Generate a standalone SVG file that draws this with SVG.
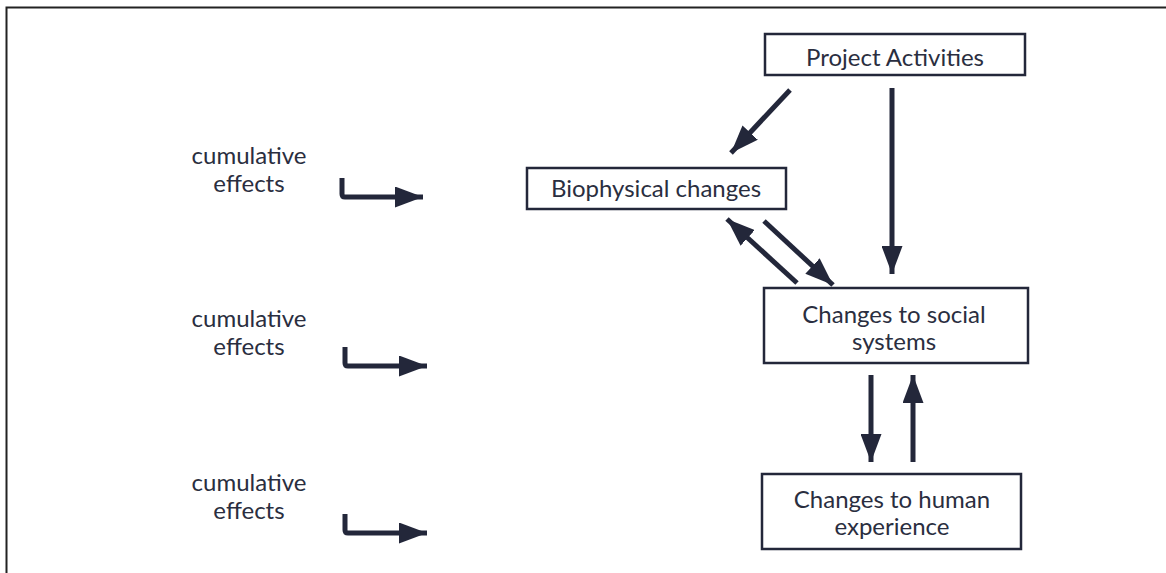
<svg xmlns="http://www.w3.org/2000/svg" width="1166" height="573" viewBox="0 0 1166 573">
<defs>
<style>
.box{fill:#fff;stroke:#23273a;stroke-width:2.5}
.t{font-family:Lato,"Noto Sans","Liberation Sans",sans-serif;font-size:24px;font-weight:400;fill:#2a2e40;text-anchor:middle}
.c{stroke:#23273a;stroke-width:5;fill:none}
.frame{stroke:#222;stroke-width:2;fill:none}
</style>
<marker id="ah" viewBox="0 0 10 10" refX="10" refY="5" markerWidth="5.6" markerHeight="4.2" markerUnits="strokeWidth" orient="auto" preserveAspectRatio="none">
<path d="M0,0 L10,5 L0,10 Z" fill="#23273a"/>
</marker>
</defs>
<rect width="1166" height="573" fill="#fff"/>
<path class="frame" d="M6.5,573 V7.5 H1166"/>
<g id="connectors">
<line class="c" x1="790" y1="90" x2="731" y2="153" marker-end="url(#ah)"/>
<line class="c" x1="892" y1="88" x2="892" y2="274" marker-end="url(#ah)"/>
<line class="c" x1="797" y1="283" x2="727" y2="219" marker-end="url(#ah)"/>
<line class="c" x1="764" y1="221" x2="833" y2="285" marker-end="url(#ah)"/>
<line class="c" x1="871" y1="375" x2="871" y2="462" marker-end="url(#ah)"/>
<line class="c" x1="913" y1="462" x2="913" y2="375" marker-end="url(#ah)"/>
<path class="c" d="M342,178 V194 Q342,197 345,197 H423" marker-end="url(#ah)"/>
<path class="c" d="M345,347 V363 Q345,366 348,366 H427" marker-end="url(#ah)"/>
<path class="c" d="M345,514 V530 Q345,533 348,533 H427" marker-end="url(#ah)"/>
</g>
<g id="project">
<rect class="box" x="765" y="34" width="260" height="41"/>
<text class="t" x="895" y="66">Project Activities</text>
</g>
<g id="biophysical">
<rect class="box" x="527" y="168" width="259" height="41"/>
<text class="t" x="656" y="197">Biophysical changes</text>
</g>
<g id="social">
<rect class="box" x="764" y="288" width="264" height="75"/>
<text class="t" x="894" y="323">Changes to social</text>
<text class="t" x="894" y="350">systems</text>
</g>
<g id="human">
<rect class="box" x="762" y="474" width="259" height="75"/>
<text class="t" x="892" y="508">Changes to human</text>
<text class="t" x="892" y="535">experience</text>
</g>
<g id="cum1">
<text class="t" x="249" y="164">cumulative</text>
<text class="t" x="249" y="192">effects</text>
</g>
<g id="cum2">
<text class="t" x="249" y="327">cumulative</text>
<text class="t" x="249" y="355">effects</text>
</g>
<g id="cum3">
<text class="t" x="249" y="491">cumulative</text>
<text class="t" x="249" y="519">effects</text>
</g>
</svg>
